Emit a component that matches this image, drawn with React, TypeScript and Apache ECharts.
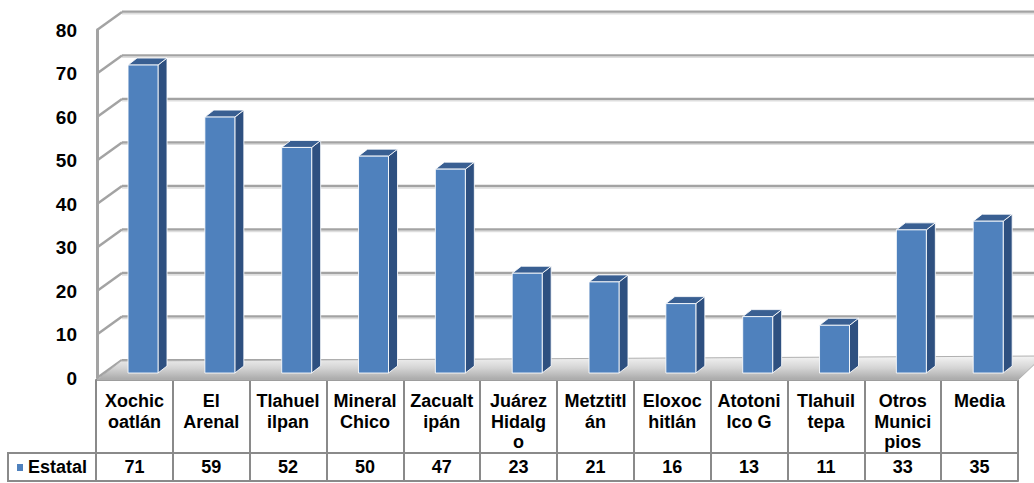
import React, { useEffect, useRef } from "react";
import * as echarts from "echarts";

const categories = [
  "Xochic\noatlán", "El\nArenal", "Tlahuel\nilpan", "Mineral\nChico", "Zacualt\nipán",
  "Juárez\nHidalg\no", "Metztitl\nán", "Eloxoc\nhitlán", "Atotoni\nlco G", "Tlahuil\ntepa",
  "Otros\nMunici\npios", "Media",
];
const estatal = [71, 59, 52, 50, 47, 23, 21, 16, 13, 11, 33, 35];
const yTicks = [0, 10, 20, 30, 40, 50, 60, 70, 80];
const seriesName = "Estatal";

const FONT = "Arial, 'Liberation Sans', sans-serif";
const LINE = "#8a8a8a";
const GRID_LINE = "#a3a3a3";

// 3D offsets
const WALL_DX = 25, WALL_DY = -18;
const BAR_DX = 9, BAR_DY = -7;

export default function App() {
  const ref = useRef<HTMLDivElement>(null);
  useEffect(() => {
    const chart = echarts.init(ref.current!, null, { renderer: "svg" });
    const option: any = {
      animation: false,
      backgroundColor: "#ffffff",
      grid: [
        { left: 97, right: 16, top: 30, bottom: 105, outerBoundsMode: "none", containLabel: false },
        { left: 96, right: 16, top: 26, bottom: 110, outerBoundsMode: "none", containLabel: false },
        { left: 122, right: 0, top: 11.7, bottom: 123, outerBoundsMode: "none", containLabel: false },
      ],
      xAxis: [
        {
          gridIndex: 1, type: "category", data: categories, position: "bottom", offset: 7,
          axisLine: { show: true, onZero: false, lineStyle: { color: LINE, width: 2 } },
          axisTick: { show: true, length: 101, lineStyle: { color: LINE, width: 2 } },
          axisLabel: {
            interval: 0, margin: 11, color: "#000", fontWeight: "bold", fontSize: 18,
            fontFamily: FONT, lineHeight: 20.5, align: "center",
          },
          splitLine: { show: false },
        },
        {
          gridIndex: 1, type: "category", data: categories, position: "bottom", offset: 80,
          axisLine: { show: true, onZero: false, lineStyle: { color: LINE, width: 2 } },
          axisTick: { show: true, length: 28, lineStyle: { color: LINE, width: 2 } },
          axisLabel: {
            interval: 0, margin: 4, color: "#000", fontWeight: "bold", fontSize: 18,
            fontFamily: FONT, lineHeight: 20,
            formatter: (_v: string, i: number) => String(estatal[i]),
          },
          splitLine: { show: false },
        },
        {
          gridIndex: 1, type: "category", data: categories, position: "bottom", offset: 108,
          axisLine: { show: true, onZero: false, lineStyle: { color: LINE, width: 2 } },
          axisTick: { show: false }, axisLabel: { show: false }, splitLine: { show: false },
        },
        {
          gridIndex: 0, type: "category", data: categories,
          axisLine: { show: false }, axisTick: { show: false }, axisLabel: { show: false }, splitLine: { show: false },
        },
        {
          gridIndex: 2, type: "category", data: categories,
          axisLine: { show: false }, axisTick: { show: false }, axisLabel: { show: false }, splitLine: { show: false },
        },
      ],
      yAxis: [
        {
          gridIndex: 0, type: "value", min: 0, max: 80, interval: 10,
          axisLine: { show: true, lineStyle: { color: GRID_LINE, width: 3 } },
          axisTick: { show: false },
          axisLabel: {
            margin: 20, color: "#000", fontWeight: "bold", fontSize: 19, fontFamily: FONT,
            padding: [6, 0, 0, 0],
          },
          splitLine: { show: false },
        },
        {
          gridIndex: 1, type: "value", min: 0, max: 80, interval: 10,
          axisLine: { show: false }, axisTick: { show: false }, axisLabel: { show: false }, splitLine: { show: false },
        },
        {
          gridIndex: 2, type: "value", min: 0, max: 80, interval: 10,
          axisLine: { show: false }, axisTick: { show: false }, axisLabel: { show: false }, splitLine: { show: false },
        },
      ],
      graphic: [
        {
          type: "rect", shape: { x: 8, y: 453, width: 88, height: 28 },
          style: { fill: "none", stroke: LINE, lineWidth: 2 },
        },
        {
          type: "rect", shape: { x: 17, y: 464, width: 6, height: 7 },
          style: { fill: "#4F81BD" },
        },
        {
          type: "text", x: 28, y: 467,
          style: {
            text: seriesName, fill: "#000", font: `bold 18px ${FONT}`,
            verticalAlign: "middle",
          },
        },
      ],
      series: [
        {
          type: "custom", name: "backwall", xAxisIndex: 4, yAxisIndex: 2, silent: true, z: 0,
          data: yTicks.map((v) => [0, v]),
          renderItem: (params: any, api: any) => {
            const y = api.coord([0, api.value(1)])[1];
            const cs = params.coordSys;
            return {
              type: "group",
              children: [
                {
                  type: "line",
                  shape: { x1: cs.x, y1: y + 1.8, x2: cs.x + cs.width, y2: y + 1.8 },
                  style: { stroke: "#dedede", lineWidth: 2 },
                },
                {
                  type: "line",
                  shape: { x1: cs.x, y1: y, x2: cs.x + cs.width, y2: y },
                  style: { stroke: GRID_LINE, lineWidth: 2.2 },
                },
              ],
            };
          },
        },
        {
          type: "custom", name: "wall", xAxisIndex: 3, yAxisIndex: 0, silent: true, z: 1,
          data: yTicks.map((v) => [0, v]),
          renderItem: (params: any, api: any) => {
            const y = api.coord([0, api.value(1)])[1];
            const x = params.coordSys.x;
            return {
              type: "line",
              shape: { x1: x, y1: y, x2: x + WALL_DX, y2: y + WALL_DY },
              style: { stroke: GRID_LINE, lineWidth: 2.5 },
            };
          },
        },
        {
          type: "custom", name: "floor", xAxisIndex: 0, yAxisIndex: 1, silent: true, z: 1,
          data: [[0, 0]],
          renderItem: (params: any, api: any) => {
            const cs = params.coordSys;
            const y0 = api.coord([0, 0])[1];
            const front = y0 + 7;
            const back = y0 - 12;
            const xl = cs.x + 1, xr = cs.x + cs.width;
            return {
              type: "polygon",
              shape: {
                points: [[xl, front], [xr, front], [xr + WALL_DX, back - 5], [xl + WALL_DX - 1, back]],
              },
              style: {
                fill: new echarts.graphic.LinearGradient(0, 0, 0, 1, [
                  { offset: 0, color: "#f4f4f4" },
                  { offset: 0.5, color: "#d4d4d4" },
                  { offset: 1, color: "#a8a8a8" },
                ]),
                stroke: "#b0b0b0", lineWidth: 1,
              },
            };
          },
        },
        {
          type: "custom", name: seriesName, xAxisIndex: 0, yAxisIndex: 1, z: 3,
          data: estatal.map((v, i) => [i, v]),
          renderItem: (params: any, api: any) => {
            const i = api.value(0);
            const v = api.value(1);
            const [cx, top] = api.coord([i, v]);
            const y0 = api.coord([i, 0])[1];
            const band = api.size([1, 0])[0];
            const w = band * 0.39;
            const xl = cx + band * 0.112 - w / 2;
            const xr = xl + w;
            const edge = { stroke: "rgba(255,255,255,0.85)", lineWidth: 1 };
            return {
              type: "group",
              children: [
                {
                  type: "polygon",
                  shape: { points: [[xr, top], [xr + BAR_DX, top + BAR_DY], [xr + BAR_DX, y0 + BAR_DY], [xr, y0]] },
                  style: { fill: "#2E5080", ...edge },
                },
                {
                  type: "polygon",
                  shape: { points: [[xl, top], [xl + BAR_DX, top + BAR_DY], [xr + BAR_DX, top + BAR_DY], [xr, top]] },
                  style: { fill: "#395F92", ...edge },
                },
                {
                  type: "rect",
                  shape: { x: xl, y: top, width: w, height: y0 - top },
                  style: { fill: "#4F81BD", ...edge },
                },
              ],
            };
          },
        },
      ],
    };
    chart.setOption(option);
    return () => chart.dispose();
  }, []);
  return (
    <div
      ref={ref}
      style={{ position: "fixed", left: 0, top: 0, width: 1034, height: 483, background: "#fff" }}
    />
  );
}
